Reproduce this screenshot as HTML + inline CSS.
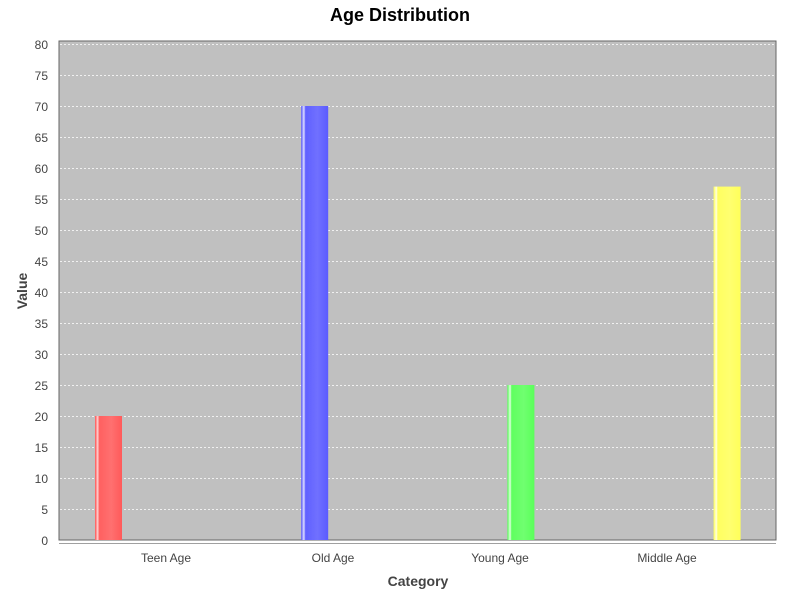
<!DOCTYPE html>
<html><head><meta charset="utf-8"><style>body{margin:0;background:#fff}svg{display:block}</style></head>
<body>
<svg id="c" width="800" height="600" xmlns="http://www.w3.org/2000/svg" font-family="Liberation Sans, sans-serif">
<defs>
<linearGradient id="gred" x1="0" x2="1"><stop offset="0" stop-color="#ff5050"/><stop offset="0.1" stop-color="#ffd0d0"/><stop offset="0.16" stop-color="#ff6060"/><stop offset="0.6" stop-color="#ff7070"/><stop offset="1" stop-color="#ff5a5a"/></linearGradient>
<linearGradient id="gblue" x1="0" x2="1"><stop offset="0" stop-color="#5050ff"/><stop offset="0.1" stop-color="#e0e0ff"/><stop offset="0.16" stop-color="#6060ff"/><stop offset="0.6" stop-color="#7070ff"/><stop offset="1" stop-color="#5a5aff"/></linearGradient>
<linearGradient id="ggreen" x1="0" x2="1"><stop offset="0" stop-color="#50ff50"/><stop offset="0.1" stop-color="#e0ffe0"/><stop offset="0.16" stop-color="#60ff60"/><stop offset="0.6" stop-color="#70ff70"/><stop offset="1" stop-color="#5aff5a"/></linearGradient>
<linearGradient id="gyellow" x1="0" x2="1"><stop offset="0" stop-color="#ffff50"/><stop offset="0.1" stop-color="#ffffe0"/><stop offset="0.16" stop-color="#ffff60"/><stop offset="0.6" stop-color="#ffff70"/><stop offset="1" stop-color="#ffff5a"/></linearGradient>
</defs>
<text x="400" y="21" text-anchor="middle" font-size="18" font-weight="bold">Age Distribution</text>
<rect x="59" y="41" width="717" height="499" fill="#c0c0c0" stroke="#666" stroke-width="1"/>
<g id="grid"></g><g id="yt"></g><g id="bars"></g><g id="xt"></g>
<line x1="59" y1="543.5" x2="776" y2="543.5" stroke="#a0a0a0"/>
<text x="418" y="586" text-anchor="middle" font-size="14" font-weight="bold" fill="#444">Category</text>
<text transform="translate(27,291) rotate(-90)" text-anchor="middle" font-size="14" font-weight="bold" fill="#444">Value</text>
</svg>
<script>
const categories=["Teen Age","Old Age","Young Age","Middle Age"];
const values=[20,70,25,57];
const yTicks=[0,5,10,15,20,25,30,35,40,45,50,55,60,65,70,75,80];
const fills=["url(#gred)","url(#gblue)","url(#ggreen)","url(#gyellow)"];
const NS="http://www.w3.org/2000/svg";
const y=v=>540-v*6.2;
const catCenter=i=>166+i*167;
const barLeft=i=>catCenter(i)-71+39.2*i;
function mk(t,a,p){const e=document.createElementNS(NS,t);for(const k in a)e.setAttribute(k,a[k]);document.getElementById(p).appendChild(e);return e;}
yTicks.forEach(v=>{
 if(v>0){const g=mk('line',{x1:60,x2:776,y1:y(v)+0.5,y2:y(v)+0.5,stroke:'#fff','stroke-width':0.7,'stroke-dasharray':'2,2'},'grid');
 
 }
 const t=mk('text',{x:48,y:y(v)+5,'text-anchor':'end','font-size':12,fill:'#444'},'yt');t.textContent=v;
 
 
});
categories.forEach((c,i)=>{
 const b=mk('rect',{x:barLeft(i),y:y(values[i]),width:27,height:540-y(values[i]),fill:fills[i]},'bars');
 
 
 const t=mk('text',{x:catCenter(i),y:562,'text-anchor':'middle','font-size':12,fill:'#444'},'xt');t.textContent=c;
 
 
});
</script>
</body></html>
